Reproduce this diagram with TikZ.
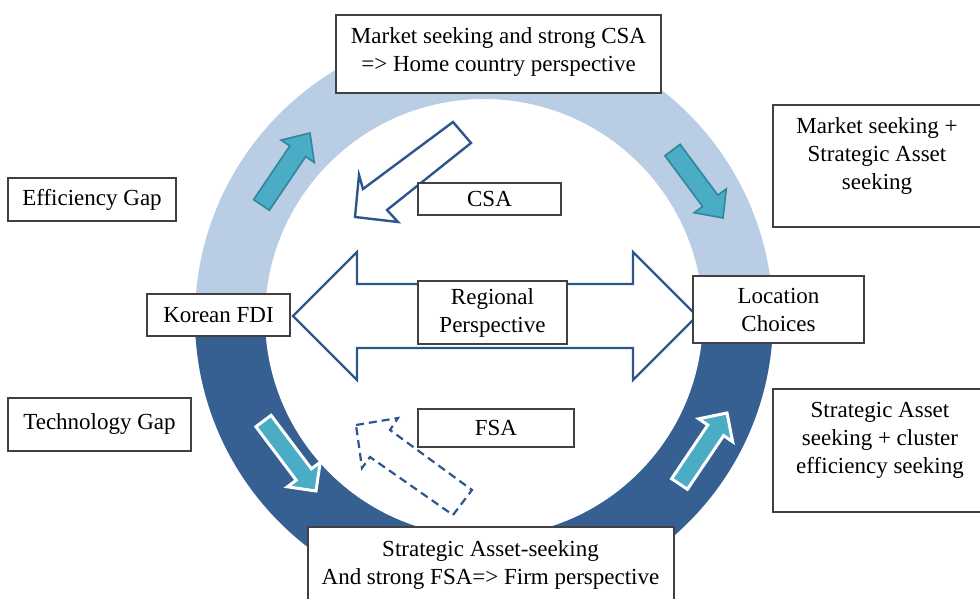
\documentclass[tikz,border=0pt]{standalone}
\usepackage{fontspec}
\setmainfont{Liberation Serif}

\definecolor{ringlight}{RGB}{185,205,229}
\definecolor{ringdark}{RGB}{54,96,146}
\definecolor{arrowblue}{RGB}{44,86,140}
\definecolor{tealfill}{RGB}{75,172,198}
\definecolor{tealdraw}{RGB}{49,133,156}

\tikzstyle{box}=[
    rectangle,
    draw=black!75,
    line width=0.6pt,
    fill=white,
    inner sep=0pt,
    align=center
]
\tikzstyle{boxtext}=[
    inner sep=0pt,
    align=center
]
\tikzstyle{hollow}=[
    draw=arrowblue,
    line width=1.1pt,
    fill=white
]
\tikzstyle{tealonlight}=[
    draw=tealdraw,
    line width=0.8pt,
    fill=tealfill
]
\tikzstyle{tealondark}=[
    draw=white,
    line width=1.5pt,
    fill=tealfill
]

\begin{document}
\begin{tikzpicture}[x=0.5pt,y=-0.5pt,font=\fontsize{11.5}{14}\selectfont]
	\useasboundingbox (0,0) rectangle (980,599);

	% RING
	\coordinate (hub) at (484,318);
	\fill[ringlight, even odd rule] (hub) circle (289) (hub) circle (219);
	\begin{scope}
		\clip (150,318) rectangle (820,640);
		\fill[ringdark, even odd rule] (hub) circle (289) (hub) circle (219);
	\end{scope}

	% HOLLOW ARROWS
	\draw[hollow] (293,316) -- (357,252) -- (357,284) -- (633,284) -- (633,252)
		-- (697,316) -- (633,380) -- (633,348) -- (357,348) -- (357,380) -- cycle;
	\draw[hollow, line width=1.2pt] (453,122) -- (471,143) -- (387,210) -- (398,222)
		-- (355,217) -- (359,175) -- (363,189) -- cycle;
	\draw[hollow, dashed, dash pattern=on 4pt off 2.5pt] (356,425) -- (398,418) -- (390,430)
		-- (472,490) -- (453,515) -- (370,457) -- (362,468) -- cycle;

	% TEAL ARROWS
	\draw[tealonlight] (269.4,210.3) -- (305.6,156.6) -- (314.3,162.5) -- (310,133)
		-- (281.1,140.1) -- (289.8,146.0) -- (253.6,199.7) -- cycle;
	\draw[tealonlight] (664.9,155.7) -- (702.6,206.5) -- (694.1,212.7) -- (723,218)
		-- (726.3,188.9) -- (717.8,195.1) -- (680.1,144.3) -- cycle;
	\draw[tealondark] (255.9,426.7) -- (296.2,480.2) -- (287.4,486.8) -- (316,491)
		-- (320.2,462.2) -- (311.4,468.8) -- (271.1,415.3) -- cycle;
	\draw[tealondark] (687.4,489.3) -- (723.6,435.6) -- (732.7,441.8) -- (727,413)
		-- (698.7,418.8) -- (707.8,425.0) -- (671.6,478.7) -- cycle;

	% BOXES
	\node (home) [box, minimum width=162.5pt, minimum height=39pt] at (498.5,54) {};
	\node (homeText) [boxtext] at (498.5,52) {Market seeking and strong CSA\\=> Home country perspective};
	\node (market) [box, minimum width=108.5pt, minimum height=61pt] at (881.5,166) {};
	\node (marketText) [boxtext] at (877,156) {Market seeking +\\Strategic Asset\\seeking};
	\node (cluster) [box, minimum width=108.5pt, minimum height=61.5pt] at (881.5,450.5) {};
	\node (clusterText) [boxtext] at (880,440) {Strategic Asset\\seeking + cluster\\efficiency seeking};
	\node (firm) [box, minimum width=183pt, minimum height=41.5pt] at (491,568.5) {};
	\node (firmText) [boxtext] at (490.5,565) {Strategic Asset-seeking\\And strong FSA=> Firm perspective};

	\node (efficiency) [box, minimum width=84pt, minimum height=21.5pt] at (92,199.5) {Efficiency Gap};
	\node (technology) [box, minimum width=91.5pt, minimum height=26.5pt] at (99.5,424.5) {Technology Gap};
	\node (csa) [box, minimum width=71.5pt, minimum height=16pt] at (489.5,199) {CSA};
	\node (fsa) [box, minimum width=78pt, minimum height=19pt] at (496,428) {FSA};
	\node (korean) [box, minimum width=71.5pt, minimum height=21pt] at (218.5,315) {Korean FDI};
	\node (regional) [box, minimum width=74.5pt, minimum height=31.5pt] at (492.5,312.5) {Regional\\Perspective};
	\node (location) [box, minimum width=85.5pt, minimum height=33.5pt] at (778.5,309.5) {Location\\Choices};
\end{tikzpicture}
\end{document}
